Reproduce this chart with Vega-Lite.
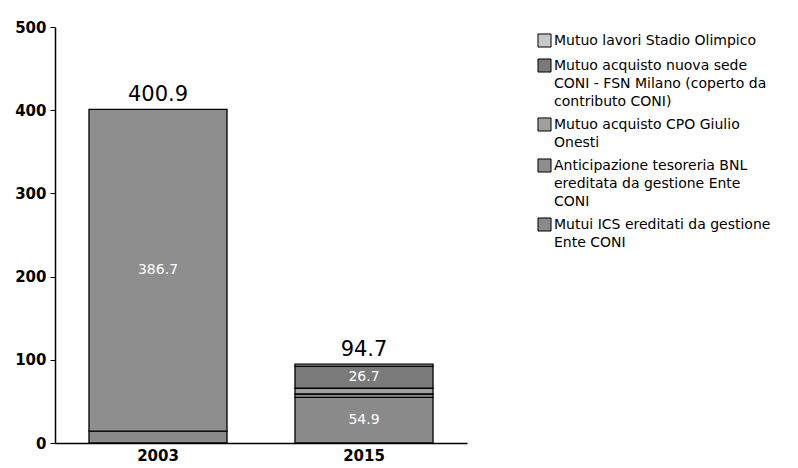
{
  "$schema": "https://vega.github.io/schema/vega-lite/v6.json",
  "width": 412,
  "height": 416,
  "padding": {"left": 14, "top": 20, "right": 5, "bottom": 5},
  "background": "white",
  "config": {
    "view": {"stroke": null},
    "font": "DejaVu Sans",
    "style": {"guide-label": {"lineHeight": 18}},
    "axis": {"labelFont": "DejaVu Sans", "labelFontSize": 15, "labelFontWeight": "bold", "labelColor": "black", "domainColor": "black", "tickColor": "black", "domainWidth": 1.5, "grid": false, "title": null}
  },
  "data": {
    "values": [
      {"anno": "2003", "serie": "Mutui ICS ereditati da gestione Ente CONI", "k": 1, "valore": 14.2},
      {"anno": "2003", "serie": "Anticipazione tesoreria BNL ereditata da gestione Ente CONI", "k": 2, "valore": 386.7},
      {"anno": "2015", "serie": "Mutui ICS ereditati da gestione Ente CONI", "k": 1, "valore": 54.9},
      {"anno": "2015", "serie": "Anticipazione tesoreria BNL ereditata da gestione Ente CONI", "k": 2, "valore": 4.0},
      {"anno": "2015", "serie": "Mutuo acquisto CPO Giulio Onesti", "k": 3, "valore": 6.9},
      {"anno": "2015", "serie": "Mutuo acquisto nuova sede CONI - FSN Milano (coperto da contributo CONI)", "k": 4, "valore": 26.7},
      {"anno": "2015", "serie": "Mutuo lavori Stadio Olimpico", "k": 5, "valore": 2.2}
    ]
  },
  "encoding": {
    "x": {"field": "anno", "type": "nominal", "scale": {"paddingInner": 0.33, "paddingOuter": 0.165},
      "axis": {"labelAngle": 0, "ticks": false, "labelPadding": 5}}
  },
  "layer": [
    {
      "mark": {"type": "bar", "stroke": "black", "strokeWidth": 1.3},
      "encoding": {
        "y": {"field": "valore", "type": "quantitative", "stack": "zero", "scale": {"domain": [0, 500]},
          "axis": {"values": [0, 100, 200, 300, 400, 500], "tickSize": 5, "labelPadding": 4}},
        "order": {"field": "k", "type": "quantitative"},
        "color": {
          "field": "serie", "type": "nominal",
          "scale": {
            "domain": ["Mutuo lavori Stadio Olimpico", "Mutuo acquisto nuova sede CONI - FSN Milano (coperto da contributo CONI)", "Mutuo acquisto CPO Giulio Onesti", "Anticipazione tesoreria BNL ereditata da gestione Ente CONI", "Mutui ICS ereditati da gestione Ente CONI"],
            "range": ["#c8c8c8", "#7a7a7a", "#a0a0a0", "#8e8e8e", "#8a8a8a"]
          },
          "legend": {
            "orient": "none", "legendX": 482, "legendY": 6, "title": null,
            "symbolType": "square", "symbolSize": 170, "symbolStrokeColor": "black", "symbolStrokeWidth": 1,
            "labelFont": "DejaVu Sans", "labelFontSize": 14, "labelColor": "black", "labelLimit": 300,
            "labelOffset": 2, "rowPadding": 6, "labelBaseline": "middle",
            "labelExpr": "datum.label == 'Mutuo acquisto nuova sede CONI - FSN Milano (coperto da contributo CONI)' ? ['Mutuo acquisto nuova sede', 'CONI - FSN Milano (coperto da', 'contributo CONI)'] : datum.label == 'Mutuo acquisto CPO Giulio Onesti' ? ['Mutuo acquisto CPO Giulio', 'Onesti'] : datum.label == 'Anticipazione tesoreria BNL ereditata da gestione Ente CONI' ? ['Anticipazione tesoreria BNL', '\u00a0ereditata da gestione Ente', '\u00a0CONI'] : datum.label == 'Mutui ICS ereditati da gestione Ente CONI' ? ['Mutui ICS ereditati da gestione', '\u00a0Ente CONI'] : datum.label"
          }
        }
      }
    },
    {
      "transform": [
        {"stack": "valore", "groupby": ["anno"], "sort": [{"field": "k"}], "as": ["v0", "v1"]},
        {"filter": "datum.valore > 20"},
        {"calculate": "(datum.v0 + datum.v1) / 2", "as": "mid"}
      ],
      "mark": {"type": "text", "color": "white", "fontSize": 14, "baseline": "middle"},
      "encoding": {
        "y": {"field": "mid", "type": "quantitative"},
        "text": {"field": "valore", "type": "quantitative", "format": ".1f"}
      }
    },
    {
      "mark": {"type": "text", "color": "black", "fontSize": 21, "baseline": "bottom", "dy": -4},
      "encoding": {
        "y": {"aggregate": "sum", "field": "valore", "type": "quantitative"},
        "text": {"aggregate": "sum", "field": "valore", "type": "quantitative", "format": ".1f"}
      }
    }
  ]
}
